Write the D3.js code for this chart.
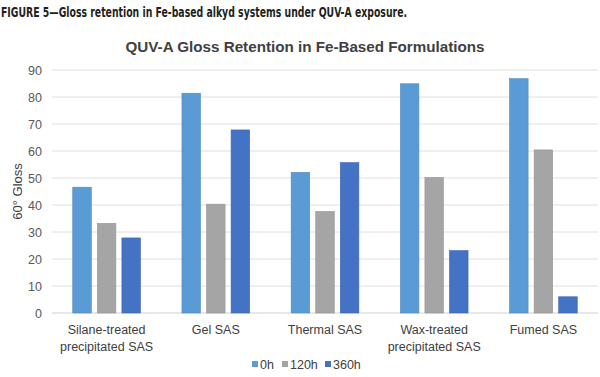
<!DOCTYPE html>
<html>
<head>
<meta charset="utf-8">
<script src="https://cdn.jsdelivr.net/npm/d3@7"></script>
<style>
  body { margin: 0; background: #fff; }
  svg { display: block; }
</style>
</head>
<body>
<div id="chart"></div>
<script>
/* QUV-A gloss retention chart */

const categories = [
    ["Silane-treated", "precipitated SAS"],
    ["Gel SAS"],
    ["Thermal SAS"],
    ["Wax-treated", "precipitated SAS"],
    ["Fumed SAS"]
];
const seriesNames = ["0h", "120h", "360h"];
const gloss0h = [46.6, 81.4, 52.1, 84.9, 86.8];
const gloss120h = [33.2, 40.3, 37.6, 50.2, 60.4];
const gloss360h = [27.8, 67.8, 55.7, 23.1, 6.0];
const yTicks = [0, 10, 20, 30, 40, 50, 60, 70, 80, 90];
const colors = ["#5B9BD5", "#A5A5A5", "#4472C4"];

function renderGlossChart() {
    const width = 600;
    const height = 377;
    const margin = { top: 70, right: 2, bottom: 64, left: 52 };

    const svg = d3.select("#chart").append("svg")
        .attr("width", width)
        .attr("height", height);

    // figure caption (condensed bold)
    svg.append("text")
        .attr("x", 1)
        .attr("y", 17)
        .attr("font-family", "'DejaVu Sans Condensed', 'Liberation Sans Narrow', sans-serif")
        .attr("font-weight", "bold")
        .attr("font-size", 14.5)
        .attr("fill", "#231f20")
        .attr("textLength", 406)
        .attr("lengthAdjust", "spacingAndGlyphs")
        .text("FIGURE 5\u2014Gloss retention in Fe-based alkyd systems under QUV-A exposure.");

    svg.append("text")
        .attr("x", 305)
        .attr("y", 52)
        .attr("text-anchor", "middle")
        .attr("font-family", "'Liberation Sans', Arial, sans-serif")
        .attr("font-weight", "bold")
        .attr("font-size", 15.2)
        .attr("fill", "#404040")
        .text("QUV-A Gloss Retention in Fe-Based Formulations");

    const idx = d3.range(categories.length);
    const series = [gloss0h, gloss120h, gloss360h];

    const x0 = d3.scaleBand()
        .domain(idx)
        .range([margin.left, width - margin.right])
        .paddingInner(0.38)
        .paddingOuter(0.19);

    const x1 = d3.scaleBand()
        .domain(d3.range(seriesNames.length))
        .range([0, x0.bandwidth()])
        .paddingInner(0.245);

    const y = d3.scaleLinear()
        .domain([0, 90])
        .range([height - margin.bottom, margin.top]);

    // gridlines
    svg.append("g")
        .selectAll("line")
        .data(yTicks)
        .enter()
        .append("line")
        .attr("x1", margin.left)
        .attr("x2", width - margin.right)
        .attr("y1", d => y(d))
        .attr("y2", d => y(d))
        .attr("stroke", d => d === 0 ? "#d0d0d0" : "#e0e0e0")
        .attr("stroke-width", 1);

    // y axis labels
    const yAxis = svg.append("g")
        .attr("transform", `translate(${margin.left},0)`)
        .call(d3.axisLeft(y).tickValues(yTicks).tickSize(0).tickPadding(10));
    yAxis.select(".domain").remove();
    yAxis.selectAll("text")
        .attr("font-family", "'Liberation Sans', Arial, sans-serif")
        .attr("font-size", 12.5)
        .attr("fill", "#595959");

    svg.append("text")
        .attr("transform", `translate(22,${y(45)}) rotate(-90)`)
        .attr("text-anchor", "middle")
        .attr("font-family", "'Liberation Sans', Arial, sans-serif")
        .attr("font-size", 13)
        .attr("fill", "#404040")
        .text("60\u00b0 Gloss");

    // bars
    const groups = svg.append("g")
        .selectAll("g")
        .data(idx)
        .enter()
        .append("g")
        .attr("transform", i => `translate(${x0(i)},0)`);

    groups.selectAll("rect")
        .data(i => series.map((s, k) => ({ k: k, v: s[i] })))
        .enter()
        .append("rect")
        .attr("x", d => x1(d.k))
        .attr("y", d => y(d.v))
        .attr("width", x1.bandwidth())
        .attr("height", d => y(0) - y(d.v))
        .attr("fill", d => colors[d.k])
        .attr("stroke", d => d3.color(colors[d.k]).darker(0.3))
        .attr("stroke-width", 0.6);

    // x axis labels
    const xLabels = svg.append("g")
        .selectAll("text")
        .data(idx)
        .enter()
        .append("text")
        .attr("x", i => x0(i) + x0.bandwidth() / 2)
        .attr("y", height - margin.bottom + 21)
        .attr("text-anchor", "middle")
        .attr("font-family", "'Liberation Sans', Arial, sans-serif")
        .attr("font-size", 12.5)
        .attr("fill", "#404040");
    xLabels.selectAll("tspan")
        .data(i => categories[i])
        .enter()
        .append("tspan")
        .attr("x", function () { return d3.select(this.parentNode).attr("x"); })
        .attr("dy", (d, j) => j === 0 ? 0 : 16.5)
        .text(d => d);

    // legend
    const legendX = [252, 282, 325];
    const legend = svg.append("g")
        .selectAll("g")
        .data(seriesNames)
        .enter()
        .append("g")
        .attr("transform", (d, i) => `translate(${legendX[i]},369)`);
    legend.append("rect")
        .attr("x", 0)
        .attr("y", -8)
        .attr("width", 6)
        .attr("height", 6)
        .attr("fill", (d, i) => colors[i]);
    legend.append("text")
        .attr("x", 8)
        .attr("y", 0)
        .attr("font-family", "'Liberation Sans', Arial, sans-serif")
        .attr("font-size", 12.5)
        .attr("fill", "#404040")
        .text(d => d);
}

renderGlossChart();
</script>
</body>
</html>
